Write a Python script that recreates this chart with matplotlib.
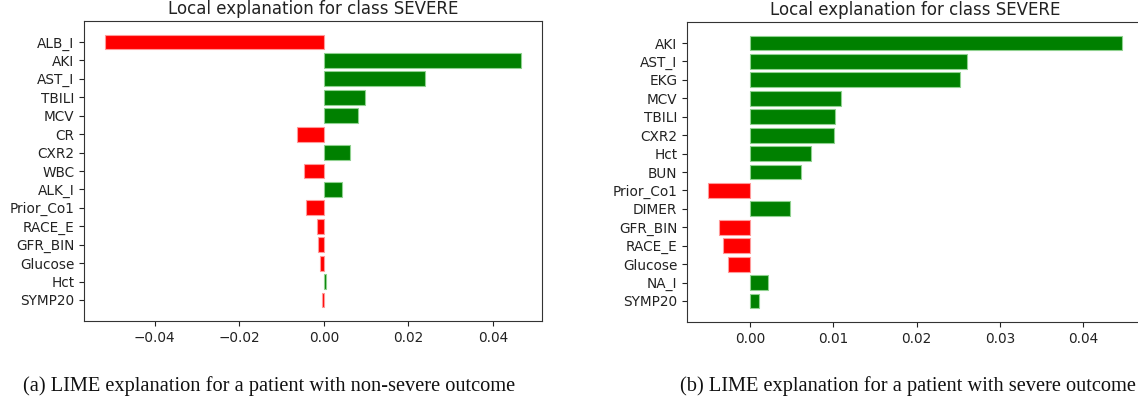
import numpy as np
import matplotlib
matplotlib.use("Agg")
import matplotlib.pyplot as plt

plt.rcParams.update({"font.family": "DejaVu Sans"})

# (a) patient with non-severe outcome
features_a = ["ALB_I", "AKI", "AST_I", "TBILI", "MCV", "CR", "CXR2", "WBC",
              "ALK_I", "Prior_Co1", "RACE_E", "GFR_BIN", "Glucose", "Hct", "SYMP20"]
weights_a = [-0.0518, 0.0467, 0.0240, 0.0097, 0.0081, -0.0063, 0.0062, -0.0047,
             0.0042, -0.0041, -0.0015, -0.0013, -0.0009, 0.0005, -0.0004]

# (b) patient with severe outcome
features_b = ["AKI", "AST_I", "EKG", "MCV", "TBILI", "CXR2", "Hct", "BUN",
              "Prior_Co1", "DIMER", "GFR_BIN", "RACE_E", "Glucose", "NA_I", "SYMP20"]
weights_b = [0.0447, 0.0260, 0.0252, 0.0109, 0.0102, 0.0101, 0.0073, 0.0061,
             -0.0051, 0.0048, -0.0038, -0.0033, -0.0027, 0.0022, 0.0011]

title = "Local explanation for class SEVERE"
caption_a = "(a) LIME explanation for a patient with non-severe outcome"
caption_b = "(b) LIME explanation for a patient with severe outcome"

W, H = 1138, 404
fig = plt.figure(figsize=(W / 100, H / 100), dpi=100)


def LimeBars(rect, features, weights):
    ax = fig.add_axes(rect)
    pos = np.arange(len(features))[::-1]
    colors = ["green" if w > 0 else "red" for w in weights]
    edges = ["#8fd18f" if w > 0 else "#ff9a9a" for w in weights]
    ax.barh(pos, weights, height=0.8, color=colors, edgecolor=edges, linewidth=0.8)
    ax.set_yticks(pos)
    ax.set_yticklabels(features)
    ax.tick_params(labelsize=9.8, colors="#222222")
    ax.set_title(title, fontsize=12, color="#222222", pad=5)
    for s in ax.spines.values():
        s.set_color("#333333")
    return ax


# axes rectangles from pixel boxes (left, top, right, bottom)
def box(l, t, r, b):
    return [l / W, 1 - b / H, (r - l) / W, (b - t) / H]


LimeBars(box(84, 21, 542, 321), features_a, weights_a)
LimeBars(box(687, 22, 1143, 322), features_b, weights_b)

fig.text(269 / W, 1 - 386 / H, caption_a, ha="center", va="center",
         family="Liberation Serif", fontsize=14.7, color="#111111")
fig.text(908 / W, 1 - 386 / H, caption_b, ha="center", va="center",
         family="Liberation Serif", fontsize=14.7, color="#111111")

fig.savefig("out.png", dpi=100)
